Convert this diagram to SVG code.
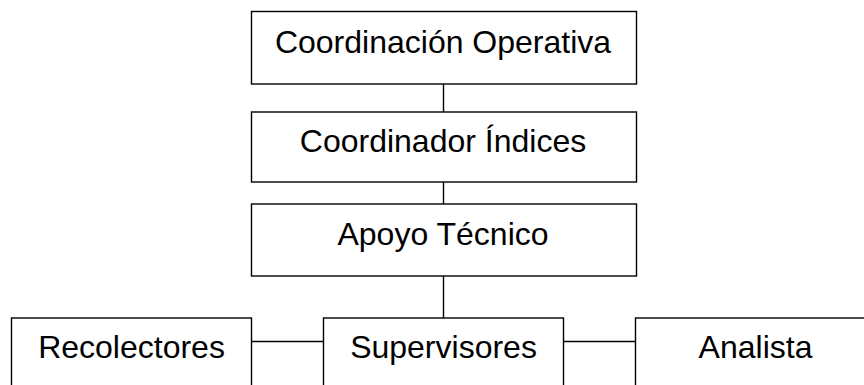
<svg xmlns="http://www.w3.org/2000/svg" width="864" height="385" viewBox="0 0 864 385">
<style>
.box{fill:#fff;stroke:#000;stroke-width:1.4}
.lbl{font-family:"Liberation Sans",Arial,sans-serif;font-size:32px;fill:#000;text-anchor:middle}
.con{stroke:#000;stroke-width:1.4;fill:none}
</style>
<rect width="864" height="385" fill="#fff"/>
<g id="connectors">
<line class="con" x1="443.5" y1="84" x2="443.5" y2="112"/>
<line class="con" x1="443.5" y1="182" x2="443.5" y2="204"/>
<line class="con" x1="443.5" y1="276" x2="443.5" y2="318"/>
<line class="con" x1="251.5" y1="341.5" x2="323.5" y2="341.5"/>
<line class="con" x1="563.5" y1="341.5" x2="635.5" y2="341.5"/>
</g>
<g id="coordinacion-operativa">
<rect class="box" x="251.5" y="11.5" width="385" height="72.5"/>
<text class="lbl" x="443" y="53">Coordinación Operativa</text>
</g>
<g id="coordinador-indices">
<rect class="box" x="251.5" y="112" width="385" height="70"/>
<text class="lbl" x="443" y="152">Coordinador Índices</text>
</g>
<g id="apoyo-tecnico">
<rect class="box" x="251.5" y="204" width="385" height="72"/>
<text class="lbl" x="443" y="245">Apoyo Técnico</text>
</g>
<g id="recolectores">
<rect class="box" x="11.5" y="318" width="240" height="80"/>
<text class="lbl" x="131.5" y="358">Recolectores</text>
</g>
<g id="supervisores">
<rect class="box" x="323.5" y="318" width="240" height="80"/>
<text class="lbl" x="443.5" y="358">Supervisores</text>
</g>
<g id="analista">
<rect class="box" x="635.5" y="318" width="240" height="80"/>
<text class="lbl" x="755.5" y="358">Analista</text>
</g>
</svg>
